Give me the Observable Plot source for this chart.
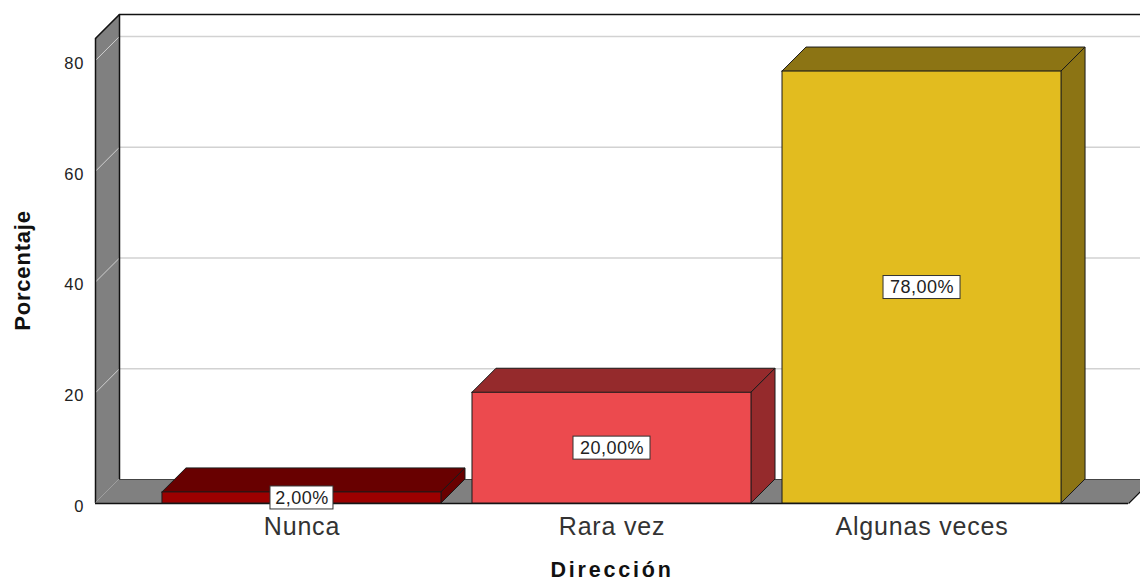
<!DOCTYPE html>
<html>
<head>
<meta charset="utf-8">
<script src="https://cdn.jsdelivr.net/npm/d3@7"></script>
<script src="https://cdn.jsdelivr.net/npm/@observablehq/plot@0.6"></script>
<style>
  html, body { margin: 0; padding: 0; background: #fff; overflow: hidden; }
</style>
</head>
<body>
<div id="chart"></div>
<script>
// ---- data ----
const categories = ["Nunca", "Rara vez", "Algunas veces"];
const values = [2, 20, 78];
const valueLabels = ["2,00%", "20,00%", "78,00%"];
const frontColors = ["#9c0000", "#ec4a4e", "#e2bc1f"];
const shadeColors = ["#680000", "#952a2c", "#8c7414"];
const yTicks = [0, 20, 40, 60, 80];
const gridTicks = [20, 40, 60, 80];
const xTitle = "Dirección";
const yTitle = "Porcentaje";

// ---- layout ----
const W = 1140, H = 582;
const mL = 95, mR = 12, mT = 14, mB = 79;
const xDomain = [-0.666, 2.666];
const yMax = 88.3;
const pxPerX = (W - mL - mR) / (xDomain[1] - xDomain[0]);
const pxPerY = (H - mT - mB) / yMax;
const depthPx = 24;
const DX = depthPx / pxPerX, DY = depthPx / pxPerY;
const HALF = 0.45;
const X0 = xDomain[0], X1 = xDomain[1];
const edge = "#111";

const bars = categories.map((c, i) => ({
  cat: c, i, v: values[i], label: valueLabels[i],
  front: frontColors[i], shade: shadeColors[i]
}));
const tops = bars.flatMap(d => [
  {cat: d.cat, y: d.v, x1: d.i - HALF, x2: d.i + HALF, fill: d.shade},
  {cat: d.cat, y: d.v + DY, x1: d.i - HALF + DX, x2: d.i + HALF + DX, fill: d.shade}
]);
const sides = bars.flatMap(d => [
  {cat: d.cat, x: d.i + HALF, y1: 0, y2: d.v, fill: d.shade},
  {cat: d.cat, x: d.i + HALF + DX, y1: DY, y2: d.v + DY, fill: d.shade}
]);
const wall = [{x: X0, y1: 0, y2: yMax - DY}, {x: X0 + DX, y1: DY, y2: yMax}];
const floor = [{y: 0, x1: X0, x2: X1}, {y: DY, x1: X0 + DX, x2: X1 + DX}];
const boxHalfW = d => (14 * d.label.length - 7) / 2 / pxPerX;
const boxHalfH = 11.5 / pxPerY;

const chart = Plot.plot({
  width: W, height: H,
  marginLeft: mL, marginRight: mR, marginTop: mT, marginBottom: mB,
  x: {domain: xDomain, axis: null},
  y: {domain: [0, yMax], axis: null},
  color: {type: "identity"},
  style: {fontFamily: "'Liberation Sans', Arial, sans-serif", background: "#fff", overflow: "hidden"},
  marks: [
    // back wall gridlines
    Plot.ruleY(gridTicks, {y: t => t + DY, x1: X0 + DX, x2: X1 + DX + 0.2, stroke: "#d2d2d2", strokeWidth: 1.5}),
    // back wall top edge
    Plot.ruleY([yMax], {x1: X0 + DX, x2: X1 + DX + 0.2, stroke: edge, strokeWidth: 1.5}),
    // left wall
    Plot.areaY(wall, {x: "x", y1: "y1", y2: "y2", fill: "#808080"}),
    Plot.link(gridTicks, {x1: X0, y1: t => t, x2: X0 + DX, y2: t => t + DY, stroke: "#cfcfcf", strokeWidth: 1}),
    Plot.ruleX([X0], {y1: 0, y2: yMax - DY, stroke: edge, strokeWidth: 1.5}),
    Plot.ruleX([X0 + DX], {y1: DY, y2: yMax, stroke: edge, strokeWidth: 1.5}),
    Plot.link([0], {x1: X0, y1: yMax - DY, x2: X0 + DX, y2: yMax, stroke: edge, strokeWidth: 1.5}),
    // floor
    Plot.areaX(floor, {y: "y", x1: "x1", x2: "x2", fill: "#808080"}),
    Plot.ruleY([DY], {x1: X0 + DX, x2: X1 + DX, stroke: "#444", strokeWidth: 1}),
    Plot.ruleY([0], {x1: X0, x2: X1, stroke: edge, strokeWidth: 1.5}),
    Plot.link([0], {x1: X1, y1: 0, x2: X1 + DX, y2: DY, stroke: edge, strokeWidth: 1.5}),
    // bars: top, side, front
    Plot.areaX(tops, {y: "y", x1: "x1", x2: "x2", z: "cat", fill: "fill", stroke: "#1a1a1a", strokeWidth: 1}),
    Plot.areaY(sides, {x: "x", y1: "y1", y2: "y2", z: "cat", fill: "fill", stroke: "#1a1a1a", strokeWidth: 1}),
    Plot.rect(bars, {x1: d => d.i - HALF, x2: d => d.i + HALF, y1: 0, y2: "v", fill: "front", stroke: "#1a1a1a", strokeWidth: 1}),
    // value label boxes
    Plot.rect(bars, {
      x1: d => d.i - boxHalfW(d), x2: d => d.i + boxHalfW(d),
      y1: d => d.v / 2 - boxHalfH, y2: d => d.v / 2 + boxHalfH,
      fill: "#fff", stroke: "#333", strokeWidth: 1
    }),
    Plot.text(bars, {x: "i", y: d => d.v / 2, text: "label", fontSize: 18, fill: "#222"}),
    // y tick labels
    Plot.text(yTicks, {x: X0, y: t => t, text: t => String(t), textAnchor: "end", dx: -11, dy: 3, fontSize: 16.5, fill: "#222"}),
    // category labels
    Plot.text(bars, {x: "i", y: 0, text: "cat", dy: 31.5, lineAnchor: "bottom", fontSize: 25, fill: "#333"}),
    // titles
    Plot.text([xTitle], {frameAnchor: "bottom", text: d => d, textAnchor: "middle", dy: 73, lineAnchor: "bottom", fontSize: 21.5, fontWeight: "bold", fill: "#111"}),
    Plot.text([yTitle], {frameAnchor: "left", text: d => d, textAnchor: "middle", rotate: -90, dx: -73, dy: 11.5, fontSize: 22, fontWeight: "bold", fill: "#111"})
  ]
});

document.getElementById("chart").appendChild(chart);

// letter spacing to match the wide lettering of the original
const spacingFor = t => {
  if (t === xTitle) return "2.8px";
  if (t === yTitle) return "0.8px";
  if (categories.includes(t)) return "0.8px";
  if (valueLabels.includes(t)) return "0.5px";
  if (yTicks.map(String).includes(t)) return "1px";
  return null;
};
d3.select(chart).selectAll("text").each(function () {
  const s = spacingFor(this.textContent);
  if (s) this.style.letterSpacing = s;
});
</script>
</body>
</html>
